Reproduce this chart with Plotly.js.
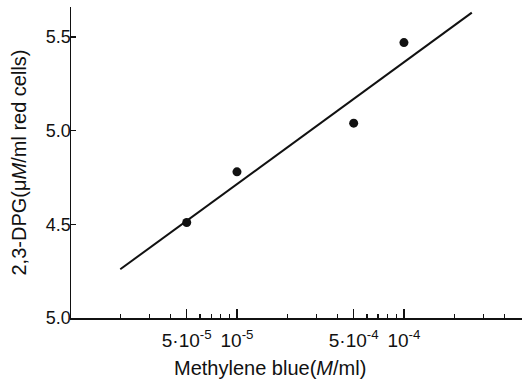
<!DOCTYPE html>
<html>
<head>
<meta charset="utf-8">
<script src="https://cdn.plot.ly/plotly-3.0.1.min.js"></script>
<style>html,body{margin:0;padding:0;background:#fff;}#chart{width:522px;height:385px;}</style>
</head>
<body>
<div id="chart"></div>
<script>
// Measured points
const pointX = [5e-6, 1e-5, 5e-5, 1e-4];
const pointY = [4.51, 4.78, 5.04, 5.47];
// Fitted line end points
const lineX = [2e-6, 2.55e-4];
const lineY = [4.26, 5.63];
// Axis ticks (labels as printed in the original figure)
const xTickVals = [5e-6, 1e-5, 5e-5, 1e-4];
const xTickText = ['5·10<sup>-5</sup>', '10<sup>-5</sup>', '5·10<sup>-4</sup>', '10<sup>-4</sup>'];
const xMinorVals = [2e-6, 3e-6, 4e-6, 6e-6, 7e-6, 8e-6, 9e-6, 2e-5, 3e-5, 4e-5, 6e-5, 7e-5, 8e-5, 9e-5, 2e-4, 3e-4, 4e-4];
const yTickVals = [4.0, 4.5, 5.0, 5.5];
const yTickText = ['5.0', '4.5', '5.0', '5.5'];

const FONT = 'Liberation Sans, Arial, sans-serif';
const INK = '#111';

const traces = [
  {x: lineX, y: lineY, mode: 'lines', line: {color: INK, width: 2}, hoverinfo: 'skip', showlegend: false},
  {x: pointX, y: pointY, mode: 'markers', marker: {color: INK, size: 9}, showlegend: false}
];

const layout = {
  width: 522, height: 385,
  margin: {l: 71, r: 0, t: 7, b: 67},
  paper_bgcolor: '#fff', plot_bgcolor: '#fff',
  font: {family: FONT, color: INK, size: 16},
  showlegend: false,
  xaxis: {
    type: 'log', range: [-5.994, -3.293],
    showgrid: false, zeroline: false,
    showline: true, linecolor: INK, linewidth: 1.5,
    tickmode: 'array', tickvals: xTickVals, ticktext: xTickText,
    ticks: 'inside', ticklen: 9, tickwidth: 1.5, tickcolor: INK,
    ticklabelstandoff: 5,
    tickfont: {family: FONT, size: 19, color: INK},
    minor: {tickmode: 'array', tickvals: xMinorVals, ticks: 'inside', ticklen: 4, tickwidth: 1.2, tickcolor: INK, showgrid: false}
  },
  yaxis: {
    range: [4.0, 5.66],
    showgrid: false, zeroline: false,
    showline: true, linecolor: INK, linewidth: 1.5,
    tickmode: 'array', tickvals: yTickVals, ticktext: yTickText,
    ticks: 'inside', ticklen: 5, tickwidth: 1.2, tickcolor: INK,
    ticklabelstandoff: -5,
    tickfont: {family: FONT, size: 18, color: INK}
  },
  annotations: [
    {text: 'Methylene blue(<i>M</i>/ml)', xref: 'paper', yref: 'paper', x: 0.441, y: 0, yshift: -50,
     showarrow: false, xanchor: 'center', yanchor: 'middle', font: {family: FONT, size: 20, color: INK}},
    {text: '2,3-DPG(μ<i>M</i>/ml red cells)', xref: 'paper', yref: 'paper', x: 0, xshift: -53, y: 0.5,
     textangle: -90, showarrow: false, xanchor: 'center', yanchor: 'middle', font: {family: FONT, size: 20, color: INK}}
  ]
};

Plotly.newPlot('chart', traces, layout, {displayModeBar: false, staticPlot: true});
</script>
</body>
</html>
